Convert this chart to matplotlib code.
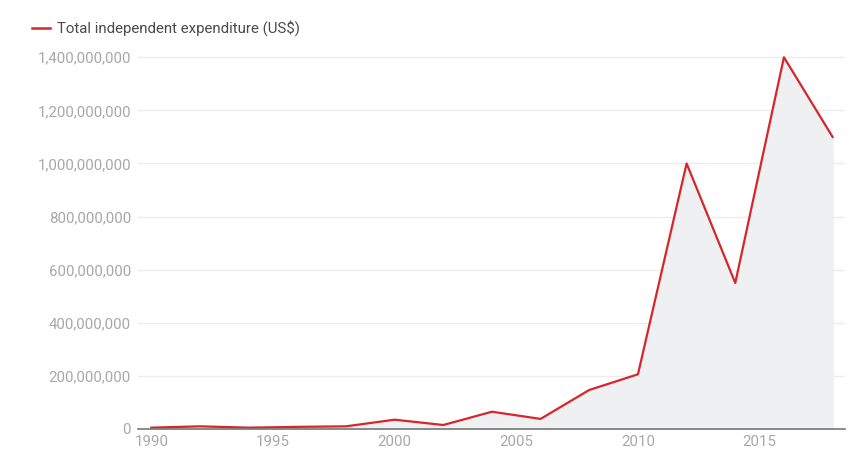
import matplotlib.pyplot as plt
import matplotlib.ticker as mtick
from matplotlib.lines import Line2D

plt.rcParams['font.family'] = ['Roboto', 'DejaVu Sans']

years = [1990, 1992, 1994, 1996, 1998, 2000, 2002, 2004, 2006, 2008,
         2010, 2012, 2014, 2016, 2018]
spending = [5e6, 10e6, 5e6, 8e6, 10e6, 35e6, 15e6, 65e6, 38e6, 147e6,
            206e6, 1000e6, 550e6, 1400e6, 1100e6]
yticks = [0, 200e6, 400e6, 600e6, 800e6, 1000e6, 1200e6, 1400e6]
xticks = [1990, 1995, 2000, 2005, 2010, 2015]
series_label = "Total independent expenditure (US$)"

red = "#d7262b"
grey_txt = "#a8a8a8"

fig = plt.figure(figsize=(8.62, 4.54), dpi=100)
ax = fig.add_axes([0.160, 0.0551, 0.820, 0.848])

ax.fill_between(years, spending, 0, color="#eef0f2", zorder=1)
ax.plot(years, spending, color=red, lw=1.6, zorder=3)

ax.set_xlim(1989.45, 2018.5)
ax.set_ylim(0, 1.45e9)
ax.set_xticks(xticks)
ax.set_yticks(yticks)
ax.yaxis.set_major_formatter(mtick.StrMethodFormatter("{x:,.0f}"))

for s in ["top", "right", "left"]:
    ax.spines[s].set_visible(False)
ax.spines["bottom"].set_color("#777777")
ax.spines["bottom"].set_linewidth(1.2)
ax.spines["bottom"].set_zorder(4)

ax.grid(axis="y", color="#ececec", lw=1.0, zorder=0)
ax.set_axisbelow(True)
ax.tick_params(axis="both", length=0, labelsize=10.8, colors=grey_txt)
ax.tick_params(axis="y", pad=5)
ax.tick_params(axis="x", pad=4)

handle = Line2D([], [], color=red, lw=1.8)
leg = fig.legend([handle], [series_label], loc="upper left",
                 bbox_to_anchor=(0.022, 0.985), frameon=False,
                 fontsize=10.8, handlelength=1.2, handletextpad=0.45)
for t in leg.get_texts():
    t.set_color("#4a4a4a")

fig.savefig("out.png", dpi=100)
